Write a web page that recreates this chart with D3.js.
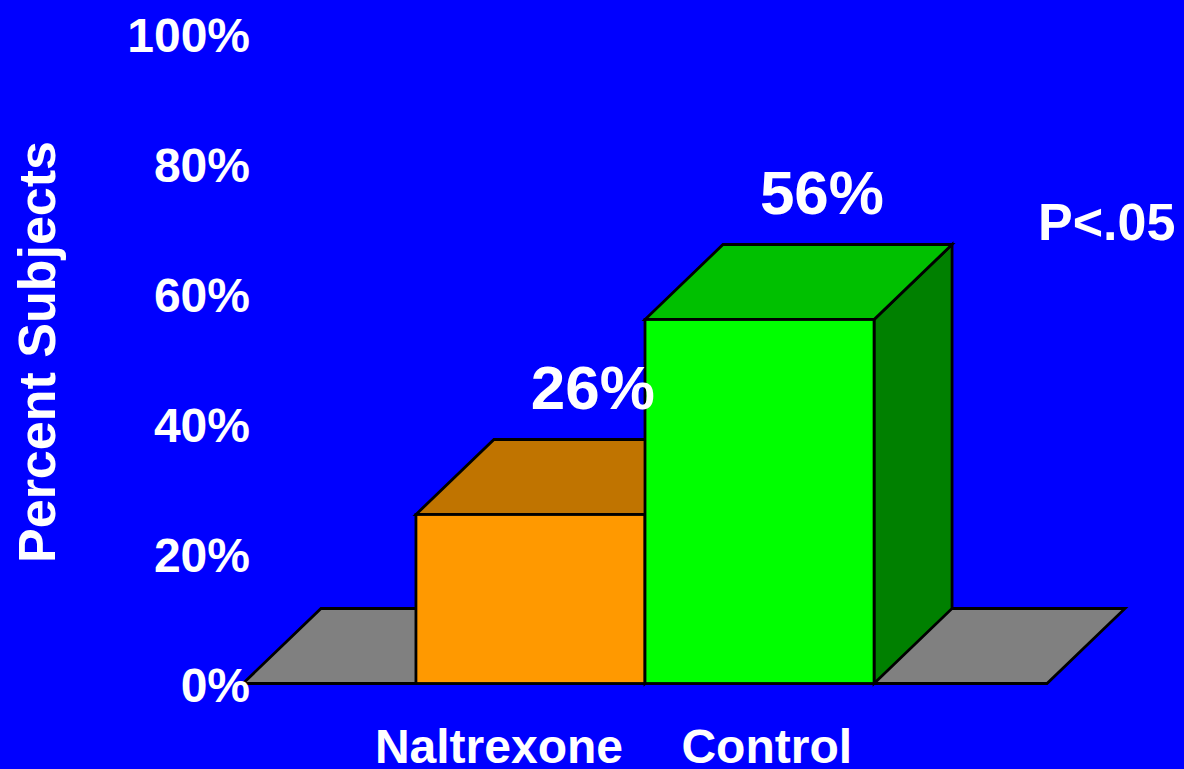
<!DOCTYPE html>
<html lang="en">
<head>
  <meta charset="UTF-8">
  <title>Percent Subjects</title>
  <script src="https://d3js.org/d3.v7.min.js"></script>
  <style>
    html, body {margin: 0; padding: 0; background: #0000FF;}
    svg {display: block;}
    text {font-family: "Liberation Sans", Arial, sans-serif; font-weight: bold; fill: #fff;}
    .face {stroke: #000; stroke-width: 2.8; stroke-linejoin: miter;}
  </style>
</head>
<body>
<div id="chart"></div>
<script>
const categories = ["Naltrexone", "Control"];
const values = [26, 56];
const valueLabels = ["26%", "56%"];
const tickValues = [0, 20, 40, 60, 80, 100];
const tickLabels = ["0%", "20%", "40%", "60%", "80%", "100%"];
const frontColors = ["#FF9900", "#00FF00"];
const topColors = ["#C07400", "#00C000"];
const sideColors = ["#A05F00", "#008000"];

const width = 1184, height = 769;
const depthX = 78, depthY = 75;

const svg = d3.select("#chart").append("svg")
  .attr("width", width)
  .attr("height", height);

svg.append("rect").attr("width", width).attr("height", height).attr("fill", "#0000FF");

const x = d3.scaleBand()
  .domain(categories)
  .range([243, 1047])
  .paddingInner(0)
  .paddingOuter(0.755);

const y = d3.scaleLinear()
  .domain([0, 100])
  .range([683.5, 33.5]);

const pts = p => p.map(d => d.join(",")).join(" ");

// floor
const [fx0, fx1] = x.range();
svg.append("polygon")
  .attr("class", "face")
  .attr("fill", "#808080")
  .attr("points", pts([[fx0, y(0)], [fx1, y(0)], [fx1 + depthX, y(0) - depthY], [fx0 + depthX, y(0) - depthY]]));

// bars, left to right so the right one covers the left one's side
categories.forEach((c, i) => {
  const x0 = x(c), x1 = x(c) + x.bandwidth();
  const yt = y(values[i]), yb = y(0);
  const g = svg.append("g");
  g.append("polygon").attr("class", "face").attr("fill", sideColors[i])
    .attr("points", pts([[x1, yb], [x1 + depthX, yb - depthY], [x1 + depthX, yt - depthY], [x1, yt]]));
  g.append("polygon").attr("class", "face").attr("fill", topColors[i])
    .attr("points", pts([[x0, yt], [x1, yt], [x1 + depthX, yt - depthY], [x0 + depthX, yt - depthY]]));
  g.append("rect").attr("class", "face").attr("fill", frontColors[i])
    .attr("x", x0).attr("y", yt).attr("width", x1 - x0).attr("height", yb - yt);
});

// value labels
svg.selectAll(".value-label")
  .data(categories)
  .enter()
  .append("text")
  .attr("class", "value-label")
  .attr("x", (c) => x(c) + x.bandwidth() / 2 + depthX * 0.8)
  .attr("y", (c, i) => y(values[i]) - 106)
  .attr("text-anchor", "middle")
  .attr("font-size", 62)
  .text((c, i) => valueLabels[i]);

// y tick labels
svg.selectAll(".tick-label")
  .data(tickValues)
  .enter()
  .append("text")
  .attr("class", "tick-label")
  .attr("x", 250)
  .attr("y", d => y(d) + 18)
  .attr("text-anchor", "end")
  .attr("font-size", 48)
  .text((d, i) => tickLabels[i]);

// category labels
svg.selectAll(".cat-label")
  .data(categories)
  .enter()
  .append("text")
  .attr("class", "cat-label")
  .attr("x", c => x(c) + x.bandwidth() - 22)
  .attr("y", 763)
  .attr("text-anchor", "end")
  .attr("font-size", 48)
  .text(c => c);

// axis title
svg.append("text")
  .attr("transform", "translate(55,352) rotate(-90)")
  .attr("text-anchor", "middle")
  .attr("font-size", 52)
  .text("Percent Subjects");

svg.append("text")
  .attr("x", 1038)
  .attr("y", 240)
  .attr("font-size", 52)
  .text("P<.05");
</script>
</body>
</html>
